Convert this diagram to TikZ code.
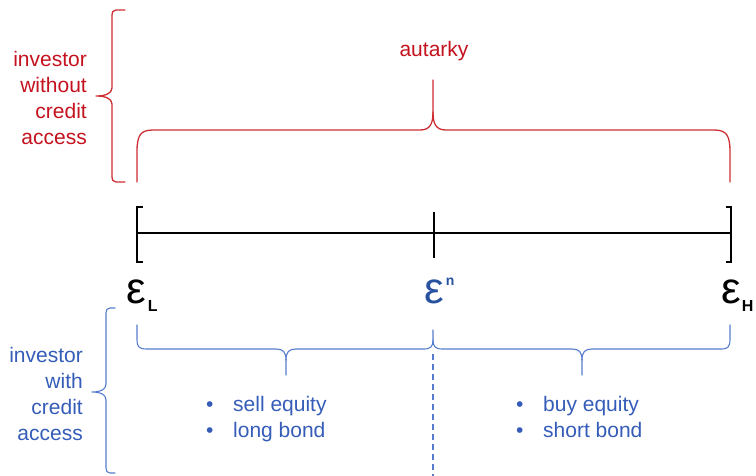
\documentclass[tikz,border=0pt]{standalone}
\usepackage{fontspec}
\setmainfont{Liberation Sans}
\definecolor{redtxt}{RGB}{196,18,30}
\definecolor{redline}{RGB}{205,45,50}
\definecolor{bluetxt}{RGB}{52,92,184}
\definecolor{blueline}{RGB}{85,125,205}
\definecolor{bluelbl}{RGB}{40,82,160}
\tikzset{
  lbl/.style={inner sep=0pt, font=\fontsize{21}{26}\selectfont},
  redbrace/.style={draw=redline, line width=1.3pt, line cap=round, line join=round},
  bluebrace/.style={draw=blueline, line width=1.1pt, line cap=round, line join=round},
  axis/.style={draw=black, line width=2.4pt},
  epslbl/.style={inner sep=0pt, font=\fontsize{44}{44}\selectfont},
}
\newcommand{\subL}[1]{\raisebox{-9pt}{\fontsize{16}{16}\selectfont\bfseries #1}}
\newcommand{\supn}[1]{\raisebox{18pt}{\fontsize{14}{14}\selectfont\bfseries #1}}
\newcommand{\bul}{\makebox[27pt][l]{\textbullet}}
\begin{document}
\begin{tikzpicture}[x=1pt,y=-1pt]
\useasboundingbox (0,0) rectangle (756,476);

% red texts
\node[lbl, text=redtxt, align=right, anchor=north east] (without) at (87,51) {investor\\without\\credit\\access};
\node[lbl, text=redtxt, anchor=base] (autarky) at (434,57) {autarky};

% red left brace
\draw[redbrace] (125,10) -- (116,10) .. controls (113,10) and (112,12) .. (112,16) -- (112,88)
  .. controls (112,94) and (104,96) .. (96,96)
  .. controls (104,96) and (112,98) .. (112,104) -- (112,176)
  .. controls (112,180) and (113,182) .. (116,182) -- (125,182);

% red big brace
\draw[redbrace] (137,182) -- (137,152) .. controls (137,136) and (140,130) .. (153,130) -- (420,130)
  .. controls (430,130) and (433,124) .. (433,112) -- (433,80);
\draw[redbrace] (433,112) .. controls (433,124) and (436,130) .. (446,130) -- (714,130)
  .. controls (727,130) and (730,136) .. (730,152) -- (730,182);

% axis
\draw[axis] (137,233) -- (731,233);
\draw[axis] (142.5,207) -- (137,207) -- (137,262) -- (142.5,262);
\draw[axis] (725.5,207) -- (731,207) -- (731,262) -- (725.5,262);
\draw[axis] (434,212) -- (434,258);

% epsilon labels
\node[epslbl, anchor=base west] (epsL) at (126,303) {ε\hspace{2pt}\subL{L}};
\node[epslbl, anchor=base west, text=bluelbl] (epsN) at (424,303) {ε\hspace{2pt}\supn{n}};
\node[epslbl, anchor=base west] (epsH) at (721,303) {ε\hspace{1pt}\subL{H}};

% blue left brace
\draw[bluebrace] (115,308) -- (110,308) .. controls (107,308) and (106,310) .. (106,313) -- (106,384)
  .. controls (106,390) and (100,392) .. (92,392)
  .. controls (100,392) and (106,394) .. (106,400) -- (106,468)
  .. controls (106,471) and (107,473) .. (110,473) -- (115,473);

\node[lbl, text=bluetxt, align=right, anchor=north east] (with) at (83,347) {investor\\with\\credit\\access};

% blue horizontal brace
\draw[bluebrace] (137,325) -- (137,339) .. controls (137,347) and (139,349) .. (147,349) -- (276,349)
  .. controls (283,349) and (286,352) .. (286,360) -- (286,375);
\draw[bluebrace] (286,360) .. controls (286,352) and (289,349) .. (296,349) -- (424,349)
  .. controls (431,349) and (433,346) .. (433,340) -- (433,330);
\draw[bluebrace] (433,340) .. controls (433,346) and (435,349) .. (442,349) -- (572,349)
  .. controls (579,349) and (582,352) .. (582,360) -- (582,375);
\draw[bluebrace] (582,360) .. controls (582,352) and (585,349) .. (592,349) -- (721,349)
  .. controls (728,349) and (730,347) .. (730,339) -- (730,325);

\draw[draw=blueline, line width=1.2pt, dash pattern=on 6pt off 4pt] (433,354) -- (433,476);

% bullets
\node[lbl, text=bluetxt, align=left, anchor=base west] (left) at (206,437) {\bul sell equity\\\bul long bond};
\node[lbl, text=bluetxt, align=left, anchor=base west] (right) at (516,437) {\bul buy equity\\\bul short bond};
\end{tikzpicture}
\end{document}
